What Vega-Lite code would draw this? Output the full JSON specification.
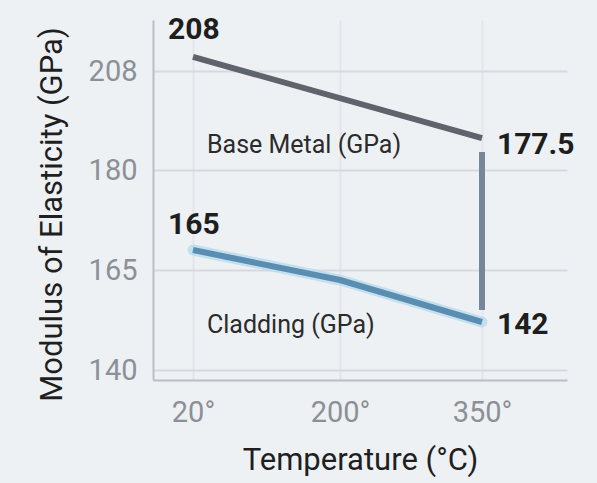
{
  "$schema": "https://vega.github.io/schema/vega-lite/v6.json",
  "width": 414,
  "height": 360,
  "autosize": {"type": "none"},
  "padding": {"left": 153, "top": 20, "right": 30, "bottom": 103},
  "background": "#eef1f4",
  "config": {
    "view": {"stroke": null},
    "font": "Roboto"
  },
  "datasets": {
    "lines": [
      {"series": "Base Metal", "temp": 20, "value": 212},
      {"series": "Base Metal", "temp": 350, "value": 189},
      {"series": "Cladding", "temp": 20, "value": 168},
      {"series": "Cladding", "temp": 200, "value": 162.5},
      {"series": "Cladding", "temp": 350, "value": 152},
      {"series": "Drop", "temp": 350, "value": 185.1},
      {"series": "Drop", "temp": 350, "value": 155}
    ],
    "labels": [
      {"kind": "value", "temp": -10.6, "value": 219.6, "label": "208"},
      {"kind": "value", "temp": 365.8, "value": 187.1, "label": "177.5"},
      {"kind": "value", "temp": -10.6, "value": 171.75, "label": "165"},
      {"kind": "value", "temp": 365.8, "value": 151.25, "label": "142"},
      {"kind": "series", "temp": 37.1, "value": 187.1, "label": "Base Metal (GPa)"},
      {"kind": "series", "temp": 37.1, "value": 151.25, "label": "Cladding (GPa)"}
    ]
  },
  "encoding": {
    "x": {
      "field": "temp",
      "type": "quantitative",
      "scale": {"domain": [-29, 20, 200, 350, 440], "range": [0, 40, 187, 329, 414], "nice": false, "zero": false},
      "axis": {
        "values": [20, 200, 350],
        "labelExpr": "datum.value + '°'",
        "title": "Temperature (°C)",
        "titleFont": "Roboto",
        "titleFontSize": 31,
        "titleFontWeight": "normal",
        "titleColor": "#1f1f1f",
        "titleX": 207,
        "titleY": 80,
        "titleAlign": "center",
        "titleBaseline": "middle",
        "labelFont": "Roboto",
        "labelFontSize": 29,
        "labelColor": "#8c9096",
        "labelPadding": 18,
        "ticks": false,
        "domainColor": "#b9bec5",
        "domainWidth": 2,
        "grid": true,
        "gridColor": "#e2e5e9",
        "gridWidth": 2
      }
    },
    "y": {
      "field": "value",
      "type": "quantitative",
      "scale": {"domain": [137.5, 140, 165, 180, 208, 222.4], "range": [360, 350, 250, 150, 51, 0], "nice": false, "zero": false},
      "axis": {
        "values": [140, 165, 180, 208],
        "title": "Modulus of Elasticity (GPa)",
        "titleFont": "Roboto",
        "titleFontSize": 31,
        "titleFontWeight": "normal",
        "titleColor": "#1f1f1f",
        "titleAngle": -90,
        "titleX": -101,
        "titleY": 194,
        "titleAlign": "center",
        "titleBaseline": "middle",
        "labelFont": "Roboto",
        "labelFontSize": 29,
        "labelColor": "#8c9096",
        "labelPadding": 16,
        "ticks": false,
        "domainColor": "#b9bec5",
        "domainWidth": 2,
        "grid": true,
        "gridColor": "#d6dae0",
        "gridWidth": 2
      }
    }
  },
  "layer": [
    {
      "data": {"name": "lines"},
      "transform": [{"filter": "datum.series === 'Cladding'"}],
      "mark": {"type": "line", "color": "#b7dcef", "strokeWidth": 11, "strokeCap": "round", "opacity": 0.8},
      "encoding": {}
    },
    {
      "data": {"name": "lines"},
      "mark": {"type": "line", "strokeWidth": 6},
      "encoding": {
        "detail": {"field": "series"},
        "color": {
          "field": "series",
          "type": "nominal",
          "scale": {"domain": ["Base Metal", "Cladding", "Drop"], "range": ["#5f646c", "#5a8db0", "#76879a"]},
          "legend": null
        }
      }
    },
    {
      "data": {"name": "labels"},
      "transform": [{"filter": "datum.kind === 'value'"}],
      "mark": {"type": "text", "align": "left", "baseline": "middle", "font": "Roboto", "fontSize": 30, "fontWeight": "bold", "color": "#1e1e1e"},
      "encoding": {"text": {"field": "label"}}
    },
    {
      "data": {"name": "labels"},
      "transform": [{"filter": "datum.kind === 'series'"}],
      "mark": {"type": "text", "align": "left", "baseline": "middle", "font": "Roboto", "fontSize": 25, "color": "#2b2b2b"},
      "encoding": {"text": {"field": "label"}}
    }
  ]
}
